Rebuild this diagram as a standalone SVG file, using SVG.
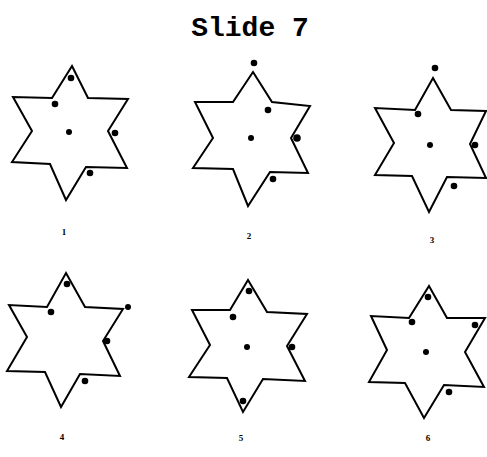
<svg xmlns="http://www.w3.org/2000/svg" width="487" height="457" viewBox="0 0 487 457">
<style>
.star{fill:#fff;stroke:#000;stroke-width:2;stroke-linejoin:miter}
.dot{fill:#000}
.lbl{font-family:"Liberation Serif",serif;font-weight:bold;font-size:9px;fill:#000;text-anchor:middle}
.title{font-family:"Liberation Mono",monospace;font-weight:bold;font-size:28px;fill:#000;text-anchor:middle}
</style>
<rect width="487" height="457" fill="#fff"/>
<text class="title" x="250" y="36">Slide 7</text>
<g id="star1">
<polygon class="star" points="72,66 88,98 128,99 108,131 127,168 86,167 66,200 50,164 12,162 32,131 13,97 52,98"/>
<circle class="dot" cx="71" cy="78" r="3.3"/><circle class="dot" cx="55" cy="104" r="3.3"/><circle class="dot" cx="69" cy="132" r="3"/><circle class="dot" cx="115" cy="133" r="3.3"/><circle class="dot" cx="90" cy="173" r="3.3"/>
<text class="lbl" x="64" y="235">1</text>
</g>
<g id="star2">
<polygon class="star" points="253,72 272,102 310,106 291,138 308,173 270,172 248,206 233,169 193,168 213,138 195,102 233,102"/>
<circle class="dot" cx="254" cy="63" r="3.3"/><circle class="dot" cx="268" cy="110" r="3.3"/><circle class="dot" cx="251" cy="138" r="3"/><circle class="dot" cx="297" cy="138" r="3.8"/><circle class="dot" cx="273" cy="179" r="3.3"/>
<text class="lbl" x="249" y="239">2</text>
</g>
<g id="star3">
<polygon class="star" points="433,78 451,110 486,111 470,144 486,178 447,177 429,212 412,176 375,175 394,143 375,108 415,110"/>
<circle class="dot" cx="435" cy="68" r="3.3"/><circle class="dot" cx="418" cy="114" r="3.3"/><circle class="dot" cx="430" cy="145" r="3"/><circle class="dot" cx="475" cy="145" r="3.3"/><circle class="dot" cx="454" cy="186" r="3.3"/>
<text class="lbl" x="432" y="243">3</text>
</g>
<g id="star4">
<polygon class="star" points="66,273 85,307 123,309 103,341 120,376 80,374 61,407 45,372 7,371 27,337 9,305 47,307"/>
<circle class="dot" cx="67" cy="284" r="3.3"/><circle class="dot" cx="51" cy="312" r="3.3"/><circle class="dot" cx="128" cy="307" r="3"/><circle class="dot" cx="107" cy="341" r="3.3"/><circle class="dot" cx="85" cy="381" r="3.3"/>
<text class="lbl" x="62" y="440">4</text>
</g>
<g id="star5">
<polygon class="star" points="248,280 267,312 307,314 287,346 305,381 263,379 243,412 227,378 189,377 210,345 192,310 230,310"/>
<circle class="dot" cx="249" cy="291" r="3.3"/><circle class="dot" cx="233" cy="317" r="3.3"/><circle class="dot" cx="247" cy="347" r="3"/><circle class="dot" cx="292" cy="347" r="3.3"/><circle class="dot" cx="243" cy="401" r="3.3"/>
<text class="lbl" x="241" y="441">5</text>
</g>
<g id="star6">
<polygon class="star" points="429,286 447,318 485,318 465,352 484,387 444,385 424,418 405,383 369,382 387,350 371,316 409,318"/>
<circle class="dot" cx="428" cy="297" r="3.3"/><circle class="dot" cx="412" cy="322" r="3.3"/><circle class="dot" cx="426" cy="352" r="3"/><circle class="dot" cx="475" cy="325" r="3.3"/><circle class="dot" cx="449" cy="392" r="3.3"/>
<text class="lbl" x="428" y="441">6</text>
</g>
<g id="connectors"/>
</svg>
